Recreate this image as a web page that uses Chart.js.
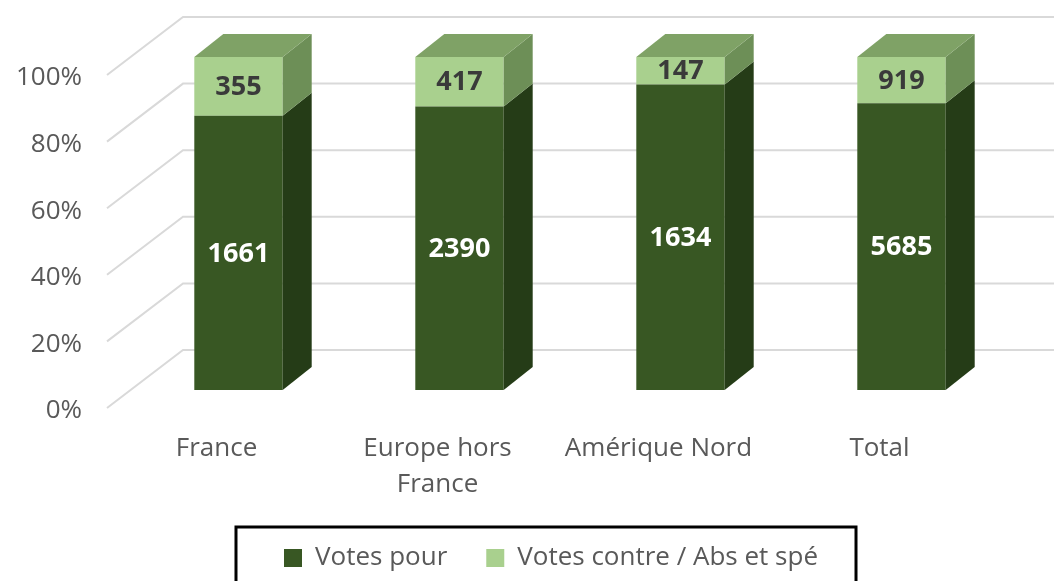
<!DOCTYPE html>
<html>
<head>
<meta charset="utf-8">
<script src="https://cdn.jsdelivr.net/npm/chart.js@4/dist/chart.umd.min.js"></script>
<style>
  html, body { margin: 0; padding: 0; background: #fff; overflow: hidden; }
  #clip { width: 1054px; height: 581px; overflow: hidden; }
  #wrap { width: 1102px; height: 581px; }
</style>
</head>
<body>
<div id="clip"><div id="wrap"><canvas id="votesChart"></canvas></div></div>
<script>
const categories = ['France', ['Europe hors', 'France'], 'Amérique Nord', 'Total'];
const votesPour = [1661, 2390, 1634, 5685];
const votesContre = [355, 417, 147, 919];
const yTicks = [0, 20, 40, 60, 80, 100];

const totals = votesPour.map((v, i) => v + votesContre[i]);
const pctPour = votesPour.map((v, i) => v / totals[i] * 100);
const pctContre = votesContre.map((v, i) => v / totals[i] * 100);

const DX = 29, DY = -23;
const faces = [
    { side: '#253c17', top: '#2f4a1e', label: '#ffffff' },
    { side: '#6d8f57', top: '#7fa266', label: '#3a3a3a' }
];

// back wall grid lines with the oblique side part
const wallGrid = {
    id: 'wallGrid',
    beforeDatasetsDraw(chart) {
        const { ctx, chartArea, scales } = chart;
        ctx.save();
        ctx.strokeStyle = '#d9d9d9';
        ctx.lineWidth = 2;
        yTicks.forEach(v => {
            const y = scales.y.getPixelForValue(v);
            ctx.beginPath();
            ctx.moveTo(chartArea.left - 21, y + 18);
            ctx.lineTo(chartArea.left + 55, y - 40);
            ctx.lineTo(chart.width, y - 40);
            ctx.stroke();
        });
        ctx.restore();
    }
};

// side and top faces + value labels
const bars3d = {
    id: 'bars3d',
    afterDatasetsDraw(chart) {
        const { ctx } = chart;
        const last = chart.data.datasets.length - 1;
        ctx.save();
        chart.data.datasets.forEach((ds, di) => {
            const meta = chart.getDatasetMeta(di);
            meta.data.forEach(bar => {
                const { x, y, base, width } = bar.getProps(['x', 'y', 'base', 'width'], true);
                const r = x + width / 2, l = x - width / 2;
                ctx.fillStyle = faces[di].side;
                ctx.beginPath();
                ctx.moveTo(r, y);
                ctx.lineTo(r + DX, y + DY);
                ctx.lineTo(r + DX, base + DY);
                ctx.lineTo(r, base);
                ctx.closePath();
                ctx.fill();
                if (di === last) {
                    ctx.fillStyle = faces[di].top;
                    ctx.beginPath();
                    ctx.moveTo(l, y);
                    ctx.lineTo(l + DX, y + DY);
                    ctx.lineTo(r + DX, y + DY);
                    ctx.lineTo(r, y);
                    ctx.closePath();
                    ctx.fill();
                }
            });
        });
        ctx.font = 'bold 27px "Open Sans"';
        ctx.textAlign = 'center';
        ctx.textBaseline = 'middle';
        chart.data.datasets.forEach((ds, di) => {
            const meta = chart.getDatasetMeta(di);
            meta.data.forEach((bar, i) => {
                const { x, y, base } = bar.getProps(['x', 'y', 'base'], true);
                ctx.fillStyle = faces[di].label;
                ctx.fillText(ds.counts[i], x, (y + base) / 2 + 1);
            });
        });
        ctx.restore();
    }
};

// frame around the legend
const legendFrame = {
    id: 'legendFrame',
    afterDraw(chart) {
        const hb = chart.legend.legendHitBoxes;
        if (!hb || !hb.length) return;
        const lastBox = hb[hb.length - 1];
        const { ctx } = chart;
        ctx.save();
        ctx.strokeStyle = '#000';
        ctx.lineWidth = 3;
        const left = hb[0].left - 48;
        const right = lastBox.left + lastBox.width + 38;
        const top = hb[0].top - 18;
        ctx.strokeRect(left, top, right - left, 80);
        ctx.restore();
    }
};

Chart.defaults.font.family = '"Open Sans", sans-serif';
Chart.defaults.color = '#595959';

new Chart(document.getElementById('votesChart'), {
    type: 'bar',
    data: {
        labels: categories,
        datasets: [{
            label: 'Votes pour',
            data: pctPour,
            counts: votesPour,
            backgroundColor: '#385723',
            borderWidth: 0
        }, {
            label: 'Votes contre / Abs et spé',
            data: pctContre,
            counts: votesContre,
            backgroundColor: '#a9d08e',
            borderWidth: 0
        }]
    },
    options: {
        responsive: true,
        maintainAspectRatio: false,
        animation: false,
        layout: { padding: { left: 0, right: 0, top: 57, bottom: 0 } },
        datasets: { bar: { barPercentage: 0.4, categoryPercentage: 1 } },
        scales: {
            x: {
                stacked: true,
                grid: { display: false, drawTicks: false },
                border: { display: false },
                ticks: {
                    font: { size: 26, lineHeight: 1.38 },
                    color: '#595959',
                    padding: 41,
                    labelOffset: -22,
                    maxRotation: 0,
                    autoSkip: false
                },
                afterFit(scale) { scale.height = 116; }
            },
            y: {
                stacked: true,
                min: 0,
                max: 100,
                grid: { display: false, drawTicks: false },
                border: { display: false },
                ticks: {
                    stepSize: 20,
                    font: { size: 26, lineHeight: 0.3 },
                    color: '#595959',
                    padding: 46,
                    labelOffset: 21,
                    callback: v => v + '%'
                },
                afterFit(scale) { scale.width = 128; }
            },
            yRight: {
                position: 'right',
                display: true,
                grid: { display: false, drawTicks: false },
                border: { display: false },
                ticks: { display: false },
                afterFit(scale) { scale.width = 90; }
            }
        },
        plugins: {
            legend: {
                position: 'bottom',
                labels: {
                    boxWidth: 18,
                    boxHeight: 18,
                    padding: 39,
                    font: { size: 26 },
                    color: '#595959'
                }
            },
            tooltip: { enabled: false }
        }
    },
    plugins: [wallGrid, bars3d, legendFrame]
});
</script>
</body>
</html>
